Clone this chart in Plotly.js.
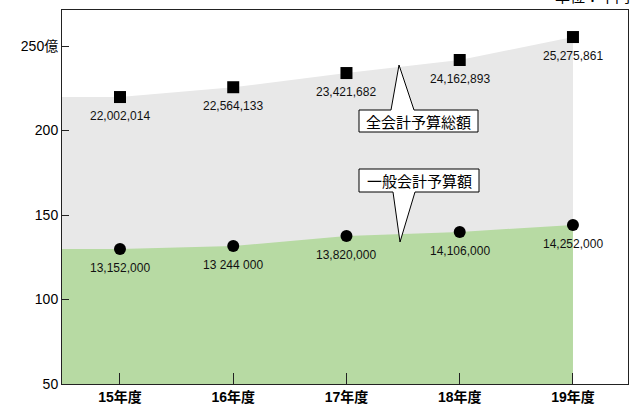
<!DOCTYPE html>
<html>
<head>
<meta charset="utf-8">
<script src="https://cdn.plot.ly/plotly-3.0.1.min.js"></script>
<style>html,body{margin:0;padding:0;background:#fff;}#chart{width:635px;height:408px;}</style>
</head>
<body>
<div id="chart"></div>
<script>
// ---- data (positions, in 億) ----
const categories = ["15年度", "16年度", "17年度", "18年度", "19年度"];
const totalValues = [219.8, 225.6, 234.0, 241.7, 255.3];
const generalValues = [129.9, 131.6, 137.6, 140.0, 144.1];
const totalLabels = ["22,002,014", "22,564,133", "23,421,682", "24,162,893", "25,275,861"];
const generalLabels = ["13,152,000", "13 244 000", "13,820,000", "14,106,000", "14,252,000"];
const yTickVals = [50, 100, 150, 200, 250];
const yTickText = ["50", "100", "150", "200", "250億"];
const calloutTotal = "全会計予算総額";
const calloutGeneral = "一般会計予算額";
const unitText = "単位：千円";

// ---- layout geometry ----
const W = 635, H = 408;
const M = {l: 62, r: 7, t: 10, b: 24};
const PW = W - M.l - M.r, PH = H - M.t - M.b;
const xRange = [-0.512, 4.486];
const yRange = [50, 271.3];
const px = x => (x - M.l) / PW;
const py = y => 1 - (y - M.t) / PH;

const FONT = "Liberation Sans, Arial, Noto Sans CJK JP, sans-serif";
const CJK = "Noto Sans CJK JP, Liberation Sans, sans-serif";

const idx = categories.map((c, i) => i);
const areaX = [xRange[0]].concat(idx);

const traces = [
  {x: areaX, y: [totalValues[0]].concat(totalValues), type: "scatter", mode: "lines",
   line: {width: 0, color: "#e8e8e8"}, fill: "tozeroy", fillcolor: "#e8e8e8", hoverinfo: "skip"},
  {x: areaX, y: [generalValues[0]].concat(generalValues), type: "scatter", mode: "lines",
   line: {width: 0, color: "#b7daa3"}, fill: "tozeroy", fillcolor: "#b7daa3", hoverinfo: "skip"},
  {x: idx, y: totalValues, type: "scatter", mode: "markers",
   marker: {symbol: "square", size: 12, color: "#000"}, hoverinfo: "skip"},
  {x: idx, y: generalValues, type: "scatter", mode: "markers",
   marker: {symbol: "circle", size: 12, color: "#000"}, hoverinfo: "skip"}
];

const annotations = [];
idx.forEach(i => {
  annotations.push({x: i, y: totalValues[i], xref: "x", yref: "y", text: totalLabels[i],
    xanchor: "center", yanchor: "middle",
    showarrow: false, yshift: -19, font: {family: FONT, size: 12, color: "#111"}});
  annotations.push({x: i, y: generalValues[i], xref: "x", yref: "y", text: generalLabels[i],
    xanchor: "center", yanchor: "middle",
    showarrow: false, yshift: -19, font: {family: FONT, size: 12, color: "#111"}});
});
annotations.push({x: px(418.5), y: py(121), xref: "paper", yref: "paper", text: calloutTotal,
  xanchor: "center", yanchor: "middle",
  showarrow: false, font: {family: CJK, size: 15, color: "#000"}});
annotations.push({x: px(419), y: py(180.5), xref: "paper", yref: "paper", text: calloutGeneral,
  xanchor: "center", yanchor: "middle",
  showarrow: false, font: {family: CJK, size: 15, color: "#000"}});
annotations.push({x: px(632), y: py(8), xref: "paper", yref: "paper", xanchor: "right", yanchor: "bottom",
  text: unitText, showarrow: false, font: {family: CJK, size: 15, color: "#000"}});

function pathFrom(pts) {
  return "M " + pts.map(p => px(p[0]) + "," + py(p[1])).join(" L ") + " Z";
}
const bubble1 = [[359,110],[391,110],[399,65],[414,110],[478,110],[478,132],[359,132]];
const bubble2 = [[359,169],[479,169],[479,192],[415,192],[400,242],[393,192],[359,192]];

const shapes = [bubble1, bubble2].map(b => ({
  type: "path", xref: "paper", yref: "paper", path: pathFrom(b),
  fillcolor: "#fff", line: {color: "#000", width: 1}, layer: "above"
}));

const layout = {
  width: W, height: H, margin: {l: M.l, r: M.r, t: M.t, b: M.b, pad: 0},
  paper_bgcolor: "#fff", plot_bgcolor: "#fff", showlegend: false,
  xaxis: {range: xRange, tickvals: idx, ticktext: categories, ticks: "inside", ticklen: 11,
    tickcolor: "#222", showline: true, linecolor: "#222", linewidth: 1, mirror: true,
    showgrid: false, zeroline: false, fixedrange: true,
    tickfont: {family: FONT, size: 14, color: "#000", weight: "bold"}},
  yaxis: {range: yRange, tickvals: yTickVals, ticktext: yTickText, ticks: "inside", ticklen: 7,
    tickcolor: "#222", showline: true, linecolor: "#222", linewidth: 1, mirror: true,
    showgrid: false, zeroline: false, fixedrange: true,
    tickfont: {family: FONT, size: 14, color: "#000"}},
  annotations: annotations, shapes: shapes
};

Plotly.newPlot("chart", traces, layout, {staticPlot: true, displayModeBar: false});
</script>
</body>
</html>
